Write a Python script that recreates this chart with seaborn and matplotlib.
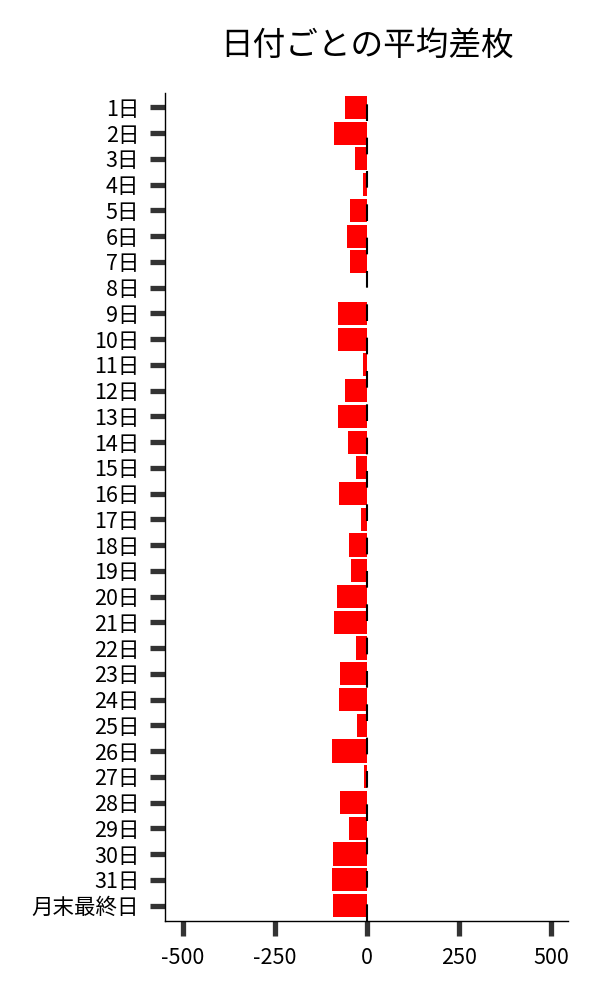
import matplotlib
matplotlib.use('Agg')
import matplotlib.pyplot as plt
import seaborn as sns
import pandas as pd

# 日付ごとの平均差枚
days = [f'{i}日' for i in range(1, 32)] + ['月末最終日']
avg_diff = [-60, -90, -33, -11, -46, -54, -46, 0, -79, -79,
            -11, -60, -79, -52, -30, -76, -16, -49, -43, -81,
            -90, -30, -73, -76, -27, -95, -8, -73, -49, -92,
            -95, -92]
x_ticks = [-500, -250, 0, 250, 500]

df = pd.DataFrame({'day': days, 'diff': avg_diff})

sns.set_style('ticks')
plt.rcParams['font.family'] = ['Noto Sans CJK JP', 'DejaVu Sans']
plt.rcParams['axes.unicode_minus'] = False

fig = plt.figure(figsize=(6, 10), dpi=100)
ax = fig.add_axes([0.275, 0.079, 0.672, 0.8283])

sns.barplot(data=df, x='diff', y='day', order=days, color='red',
            saturation=1, width=0.9, linewidth=0, ax=ax)
ax.axvline(0, color='black', linewidth=1.5, dashes=(8, 8))

ax.set_xlim(-548, 546)
ax.set_ylim(len(days) - 0.4, -0.57)
ax.set_xticks(x_ticks)
ax.set_xticklabels([str(v) for v in x_ticks])
ax.set_xlabel('')
ax.set_ylabel('')
ax.set_title('日付ごとの平均差枚', fontsize=23.5, pad=27, color='black')
ax.tick_params(axis='both', length=11, width=3.8, color='#333333',
               labelsize=15.5, labelcolor='black')
ax.tick_params(axis='x', pad=8)
ax.tick_params(axis='y', pad=7.5)
for s in ['left', 'bottom']:
    ax.spines[s].set_color('black')
    ax.spines[s].set_linewidth(1)
sns.despine(ax=ax)

fig.savefig('out.png', dpi=100)
